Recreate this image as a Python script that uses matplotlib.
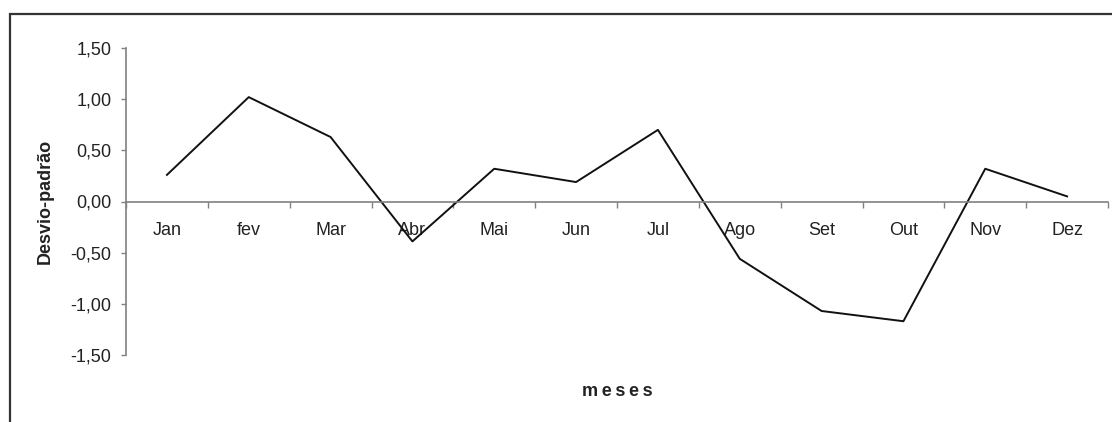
import matplotlib
matplotlib.use("Agg")

import matplotlib.pyplot as plt
from matplotlib.ticker import FixedLocator, FuncFormatter
from matplotlib.patches import Rectangle

# ── Data ────────────────────────────────────────────────────────────
MESES = ["Jan", "fev", "Mar", "Abr", "Mai", "Jun",
         "Jul", "Ago", "Set", "Out", "Nov", "Dez"]
DESVIO = [0.26, 1.02, 0.63, -0.39, 0.32, 0.19,
          0.70, -0.56, -1.07, -1.17, 0.32, 0.05]
Y_TICKS = [-1.5, -1.0, -0.5, 0.0, 0.5, 1.0, 1.5]

plt.rcParams["font.family"] = ["Liberation Sans", "DejaVu Sans"]

AXIS_GREY = "#808080"
TEXT = "#222222"

fig = plt.figure(figsize=(11.12, 4.22), dpi=100)
ax = fig.add_axes([126 / 1112, 1 - 355 / 422, 982 / 1112, 307 / 422])

x = list(range(1, len(MESES) + 1))
ax.plot(x, DESVIO, color="#111111", linewidth=1.4)

ax.set_xlim(0.5, len(MESES) + 0.5)
ax.set_ylim(-1.5, 1.5)

# spines: left only + zero line as category axis
for s in ("top", "right"):
    ax.spines[s].set_visible(False)
ax.spines["left"].set_color(AXIS_GREY)
ax.spines["left"].set_linewidth(1.2)
ax.spines["bottom"].set_position(("data", 0))
ax.spines["bottom"].set_color(AXIS_GREY)
ax.spines["bottom"].set_linewidth(1.2)

# y axis
ax.yaxis.set_major_locator(FixedLocator(Y_TICKS))
ax.yaxis.set_major_formatter(FuncFormatter(lambda v, p: f"{v:.2f}".replace(".", ",")))
ax.tick_params(axis="y", direction="out", length=3.5, width=1, color=AXIS_GREY,
               labelsize=13, labelcolor=TEXT, pad=7)

# x axis: ticks on category boundaries, labels at centres
bounds = [i + 0.5 for i in range(0, len(MESES) + 1)]
ax.xaxis.set_major_locator(FixedLocator(bounds))
ax.xaxis.set_major_formatter(FuncFormatter(lambda v, p: ""))
ax.xaxis.set_minor_locator(FixedLocator(x))
ax.xaxis.set_minor_formatter(FuncFormatter(lambda v, p: MESES[int(round(v)) - 1]))
ax.tick_params(axis="x", which="major", direction="out", length=4, width=1,
               color=AXIS_GREY)
ax.tick_params(axis="x", which="minor", length=0, labelsize=13,
               labelcolor=TEXT, pad=15)

ax.set_ylabel("Desvio-padrão", fontsize=13, fontweight="bold", color=TEXT,
              labelpad=12)
fig.text(617 / 1112, 1 - 391 / 422, "m e s e s".replace(" ", "\u2009"),
         ha="center", va="center", fontsize=13, fontweight="bold", color=TEXT)

# outer chart frame (only top and left edges visible in the crop)
fig.patches.append(Rectangle((10 / 1112, -0.1), 1.2, 1 - 14 / 422 + 0.1,
                             transform=fig.transFigure, fill=False,
                             edgecolor="#333333", linewidth=1.6))

fig.savefig("out.png", dpi=100)
